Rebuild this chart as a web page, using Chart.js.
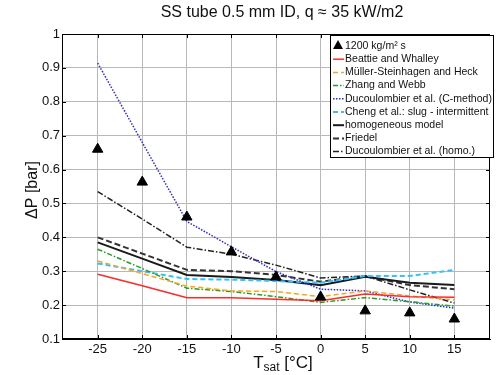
<!DOCTYPE html>
<html>
<head>
<meta charset="utf-8">
<script src="https://cdn.jsdelivr.net/npm/chart.js@4.4.0/dist/chart.umd.min.js"></script>
<style>
  html, body { margin: 0; padding: 0; background: #fff; }
  #wrap { width: 497px; height: 375px; }
</style>
</head>
<body>
<div id="wrap"><canvas id="canvas-1" width="497" height="375"></canvas></div>
<script>
// data
var tsat = [-25, -20, -15, -10, -5, 0, 5, 10, 15];
var xTicks = [-25, -20, -15, -10, -5, 0, 5, 10, 15];
var yTicks = [0.1, 0.2, 0.3, 0.4, 0.5, 0.6, 0.7, 0.8, 0.9, 1];

var measured    = [0.66, 0.563, 0.46, 0.357, 0.283, 0.224, 0.183, 0.177, 0.159];
var beattie     = [0.291, 0.257, 0.222, 0.222, 0.217, 0.213, 0.233, 0.225, 0.223];
var muller      = [0.330, 0.293, 0.256, 0.242, 0.240, 0.225, 0.242, 0.227, 0.215];
var zhang       = [0.365, 0.308, 0.250, 0.240, 0.225, 0.208, 0.222, 0.210, 0.197];
var ducC        = [0.914, 0.680, 0.447, 0.372, 0.299, 0.247, 0.242, 0.209, 0.191];
var cheng       = [0.323, 0.300, 0.277, 0.275, 0.271, 0.266, 0.286, 0.286, 0.304];
var homogeneous = [0.385, 0.337, 0.289, 0.283, 0.274, 0.259, 0.284, 0.266, 0.259];
var friedel     = [0.400, 0.352, 0.304, 0.300, 0.289, 0.269, 0.286, 0.259, 0.247];
var ducHomo     = [0.535, 0.454, 0.371, 0.350, 0.318, 0.280, 0.286, 0.245, 0.206];

var labels = ['1200 kg/m\u00b2 s', 'Beattie and Whalley', 'M\u00fcller-Steinhagen and Heck',
  'Zhang and Webb', 'Ducoulombier et al. (C-method)', 'Cheng et al.: slug - intermittent',
  'homogeneous model', 'Friedel', 'Ducoulombier et al. (homo.)'];

function pts(arr) {
  return tsat.map(function (t, i) { return { x: t, y: arr[i] }; });
}

function lineSet(label, arr, color, dash, width) {
  return {
    label: label, data: pts(arr), borderColor: color, backgroundColor: color,
    borderDash: dash, borderWidth: width, pointRadius: 0, fill: false, tension: 0
  };
}

var datasets = [
  {
    label: labels[0], data: pts(measured), showLine: false,
    pointStyle: 'triangle', pointRadius: 6, backgroundColor: '#000', borderColor: '#000',
    borderWidth: 1
  },
  lineSet(labels[1], beattie, '#ff2a2a', [], 1.5),
  lineSet(labels[2], muller, '#ffa31f', [5, 3], 1.5),
  lineSet(labels[3], zhang, '#1fa01f', [5, 2, 1.5, 2], 1.5),
  lineSet(labels[4], ducC, '#2a2ae6', [1.5, 1.5], 1.5),
  lineSet(labels[5], cheng, '#33c2ff', [5, 3], 2),
  lineSet(labels[6], homogeneous, '#1a1a1a', [], 2),
  lineSet(labels[7], friedel, '#333', [6, 3], 2),
  lineSet(labels[8], ducHomo, '#222', [6, 2, 1.5, 2], 1.5)
];

var FONT = '"Liberation Sans", Arial, sans-serif';

var decor = {
  id: 'decor',
  beforeDatasetsDraw: function (chart) {
    var c = chart.ctx, a = chart.chartArea;
    c.save();
    // inner tick marks
    c.strokeStyle = '#000';
    c.lineWidth = 1;
    var xs = chart.scales.x, ys = chart.scales.y;
    xTicks.forEach(function (t) {
      var px = Math.round(xs.getPixelForValue(t)) + 0.5;
      c.beginPath(); c.moveTo(px, a.bottom); c.lineTo(px, a.bottom - 4);
      c.moveTo(px, a.top); c.lineTo(px, a.top + 4); c.stroke();
    });
    yTicks.forEach(function (t) {
      var py = Math.round(ys.getPixelForValue(t)) + 0.5;
      c.beginPath(); c.moveTo(a.left, py); c.lineTo(a.left + 4, py);
      c.moveTo(a.right, py); c.lineTo(a.right - 4, py); c.stroke();
    });
    c.restore();
  },
  afterDraw: function (chart) {
    var c = chart.ctx, a = chart.chartArea;
    c.save();
    // frame
    c.strokeStyle = '#000';
    c.lineWidth = 1;
    c.strokeRect(a.left + 0.5, a.top + 0.5, a.right - a.left - 1, a.bottom - a.top - 1);

    // title
    c.fillStyle = '#111';
    c.font = '16px ' + FONT;
    c.textAlign = 'center';
    c.textBaseline = 'middle';
    c.fillText('SS tube 0.5 mm ID, q \u2248 35 kW/m2', 282, 13);

    // y axis title
    c.save();
    c.translate(33, 190);
    c.rotate(-Math.PI / 2);
    c.font = '16px ' + FONT;
    c.fillText('\u0394P [bar]', 0, 0);
    c.restore();

    // x axis title with subscript
    c.textAlign = 'left';
    c.textBaseline = 'alphabetic';
    c.font = '17px ' + FONT;
    var w1 = c.measureText('T').width;
    c.font = '12px ' + FONT;
    var w2 = c.measureText('sat').width;
    c.font = '17px ' + FONT;
    var w3 = c.measureText(' [\u00b0C]').width;
    var x0 = 283 - (w1 + w2 + w3) / 2;
    c.fillText('T', x0, 368);
    c.font = '12px ' + FONT;
    c.fillText('sat', x0 + w1, 371);
    c.font = '17px ' + FONT;
    c.fillText(' [\u00b0C]', x0 + w1 + w2, 368);

    // legend
    var lx = 330, ly = 35, lw = 164, lh = 123;
    c.fillStyle = '#fff';
    c.fillRect(lx, ly, lw, lh);
    c.strokeStyle = '#000';
    c.lineWidth = 1;
    c.strokeRect(lx + 0.5, ly + 0.5, lw - 1, lh - 1);
    // fit the longest label to the box width
    c.font = '11px ' + FONT;
    var longest = c.measureText(labels[4]).width;
    var fs = Math.min(11, 11 * 147 / longest);
    c.font = fs.toFixed(2) + 'px ' + FONT;
    c.textBaseline = 'middle';
    chart.data.datasets.forEach(function (ds, i) {
      var y = ly + 11 + i * 13.2;
      if (ds.showLine === false) {
        c.fillStyle = '#000';
        c.beginPath();
        c.moveTo(lx + 8, y - 6); c.lineTo(lx + 3, y + 3); c.lineTo(lx + 13, y + 3);
        c.closePath(); c.fill();
      } else {
        c.strokeStyle = ds.borderColor;
        c.lineWidth = ds.borderWidth;
        c.setLineDash(ds.borderDash || []);
        c.beginPath(); c.moveTo(lx + 3, y); c.lineTo(lx + 14, y); c.stroke();
        c.setLineDash([]);
      }
      c.fillStyle = '#111';
      c.fillText(ds.label, lx + 15, y);
    });
    c.restore();
  }
};

var ctx = document.getElementById('canvas-1');
var chart = new Chart(ctx, {
  type: 'line',
  data: { datasets: datasets },
  plugins: [decor],
  options: {
    responsive: false,
    animation: false,
    layout: { padding: { left: 0, right: 2, top: 34, bottom: 0 } },
    plugins: { legend: { display: false }, title: { display: false }, tooltip: { enabled: false } },
    scales: {
      x: {
        type: 'linear', min: -29, max: 19,
        afterBuildTicks: function (s) { s.ticks = xTicks.map(function (v) { return { value: v }; }); },
        afterFit: function (s) { s.height = 36; },
        grid: { color: '#b8b8b8', drawTicks: false, lineWidth: 1 },
        border: { color: '#000' },
        ticks: { color: '#111', font: { size: 13, family: FONT }, padding: 3, maxRotation: 0 }
      },
      y: {
        min: 0.1, max: 1,
        afterBuildTicks: function (s) { s.ticks = yTicks.map(function (v) { return { value: v }; }); },
        afterFit: function (s) { s.width = 62; },
        grid: { color: '#b8b8b8', drawTicks: false, lineWidth: 1 },
        border: { color: '#000' },
        ticks: { color: '#111', font: { size: 13, family: FONT }, padding: 2,
          callback: function (v) { return String(Math.round(v * 10) / 10); } }
      }
    }
  }
});
</script>
</body>
</html>
